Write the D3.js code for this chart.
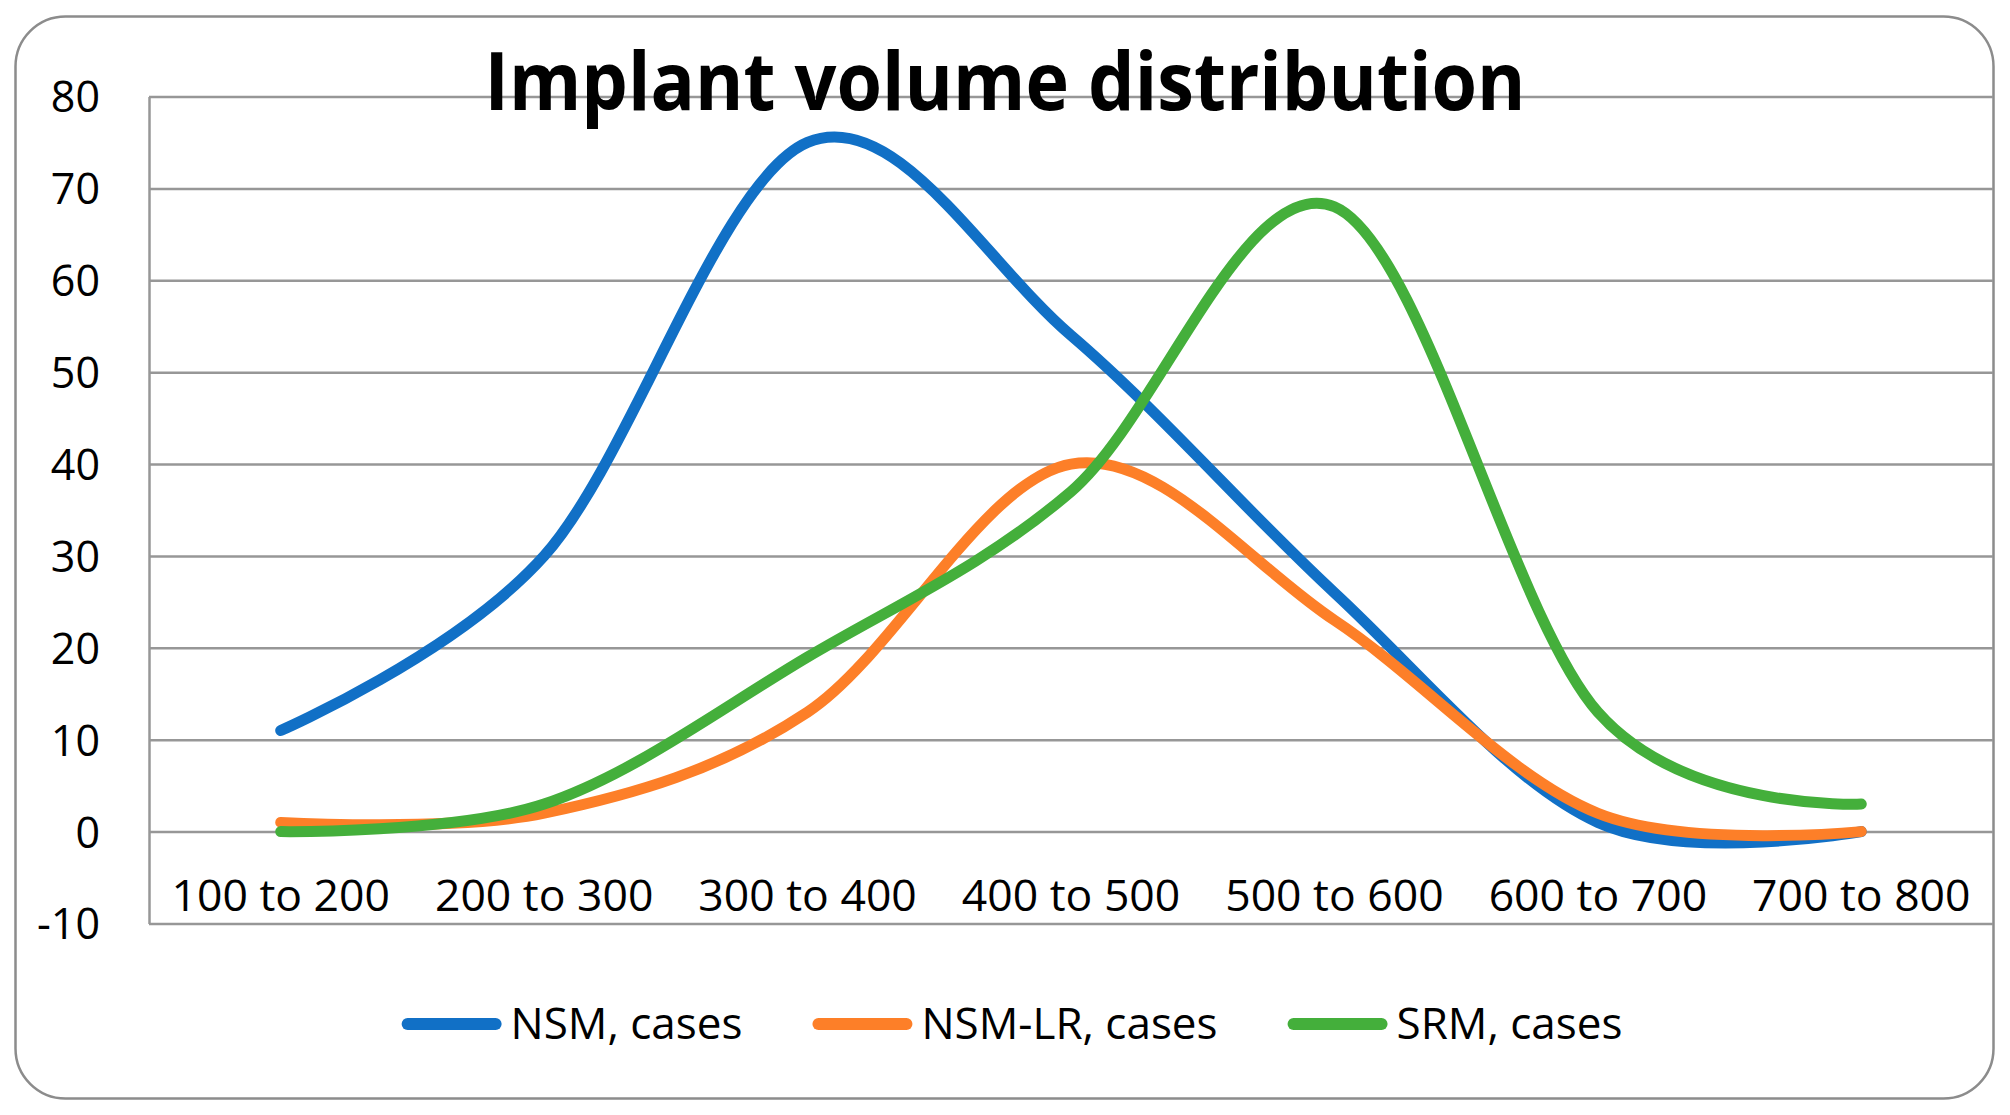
<!DOCTYPE html>
<html>
<head>
<meta charset="utf-8">
<script src="https://cdn.jsdelivr.net/npm/d3@7"></script>
<style>
  body { margin: 0; background: #fff; }
  text { font-family: "Open Sans", sans-serif; fill: #000; }
</style>
</head>
<body>
<div id="chart"></div>
<script>
/* DATA */
const categories = ["100 to 200", "200 to 300", "300 to 400", "400 to 500", "500 to 600", "600 to 700", "700 to 800"];
const nsm = [11, 30, 75, 54, 26, 1, 0];
const nsmLR = [1, 2, 13, 40, 23, 2, 0];
const srm = [0, 3, 19, 37, 68, 13, 3];
const seriesNames = ["NSM, cases", "NSM-LR, cases", "SRM, cases"];
const seriesColors = ["#1170c6", "#fd7f28", "#44af3b"];
const yTicks = [-10, 0, 10, 20, 30, 40, 50, 60, 70, 80];
const titleText = "Implant volume distribution";

/* LAYOUT */
const width = 2010,
  height = 1115,
  margin = { top: 96.5, bottom: 191.5, left: 149, right: 17 };
const gridColor = "#979797";

const svg = d3.select("#chart")
  .append("svg")
  .attr("width", width)
  .attr("height", height);

// outer frame
svg.append("rect")
  .attr("x", 15.5)
  .attr("y", 16.5)
  .attr("width", 1978)
  .attr("height", 1082)
  .attr("rx", 50)
  .attr("fill", "#fff")
  .attr("stroke", "#8c8c8c")
  .attr("stroke-width", 2.5);

// scales
const xScale = d3.scaleBand()
  .domain(categories)
  .range([margin.left, width - margin.right]);
const yScale = d3.scaleLinear()
  .domain([-10, 80])
  .range([height - margin.bottom, margin.top]);

const xPos = d => xScale(d) + xScale.bandwidth() / 2;

// y axis with gridlines (plain hyphen for negatives, like the original)
const yAxis = d3.axisLeft(yScale)
  .tickValues(yTicks)
  .tickFormat(d => String(d))
  .tickSize(-(width - margin.right - margin.left))
  .tickSizeOuter(0)
  .tickPadding(49);

const yAxisGroup = svg.append("g")
  .attr("class", "yAxis")
  .attr("transform", `translate(${margin.left}, 0)`)
  .call(yAxis);

yAxisGroup.select(".domain")
  .attr("stroke", gridColor)
  .attr("stroke-width", 2.5);
yAxisGroup.selectAll(".tick line")
  .attr("stroke", gridColor)
  .attr("stroke-width", 2.5);
yAxisGroup.selectAll(".tick text")
  .attr("font-size", 43)
  .attr("font-family", "Open Sans")
  .attr("fill", "#000")
  .attr("dy", "0.36em");

// category labels, sitting under the zero line
const xAxis = d3.axisBottom(xScale)
  .tickSize(0)
  .tickSizeOuter(0);

const xAxisGroup = svg.append("g")
  .attr("class", "xAxis")
  .attr("transform", `translate(0, ${yScale(0)})`)
  .call(xAxis);

xAxisGroup.select(".domain").remove();
xAxisGroup.selectAll(".tick text")
  .attr("y", 79)
  .attr("dy", null)
  .attr("font-size", 44.5)
  .attr("font-family", "Open Sans")
  .attr("fill", "#000");

// title
svg.append("text")
  .attr("x", 1005)
  .attr("y", 110)
  .attr("text-anchor", "middle")
  .attr("font-size", 80)
  .attr("font-weight", "bold")
  .attr("textLength", 1041)
  .attr("lengthAdjust", "spacingAndGlyphs")
  .text(titleText);

// lines
const allSeries = [nsm, nsmLR, srm];
const lineGen = d3.line()
  .x((d, i) => xPos(categories[i]))
  .y(d => yScale(d))
  .curve(d3.curveCardinal.tension(0));

svg.selectAll(".line")
  .data(allSeries)
  .join("path")
  .attr("class", "line")
  .attr("fill", "none")
  .attr("stroke", (d, i) => seriesColors[i])
  .attr("stroke-width", 11)
  .attr("stroke-linecap", "round")
  .attr("stroke-linejoin", "round")
  .attr("d", d => lineGen(d));

// legend, centred under the plot
const legendY = 1024,
  legendCenter = 1012,
  swatch = 100,
  swatchGap = 9,
  itemGap = 70;

const legend = svg.append("g").attr("class", "legend");
const items = legend.selectAll("g")
  .data(seriesNames)
  .join("g");

items.append("line")
  .attr("x1", 6)
  .attr("x2", swatch - 6)
  .attr("y1", legendY)
  .attr("y2", legendY)
  .attr("stroke", (d, i) => seriesColors[i])
  .attr("stroke-width", 12)
  .attr("stroke-linecap", "round");

items.append("text")
  .attr("x", swatch + swatchGap)
  .attr("y", legendY + 15)
  .attr("font-size", 44)
  .text(d => d);

let widths = [];
items.each(function () {
  widths.push(swatch + swatchGap + d3.select(this).select("text").node().getComputedTextLength());
});
const total = d3.sum(widths) + itemGap * (widths.length - 1);
let cursor = legendCenter - total / 2;
items.attr("transform", (d, i) => {
  const t = `translate(${cursor}, 0)`;
  cursor += widths[i] + itemGap;
  return t;
});
</script>
</body>
</html>
